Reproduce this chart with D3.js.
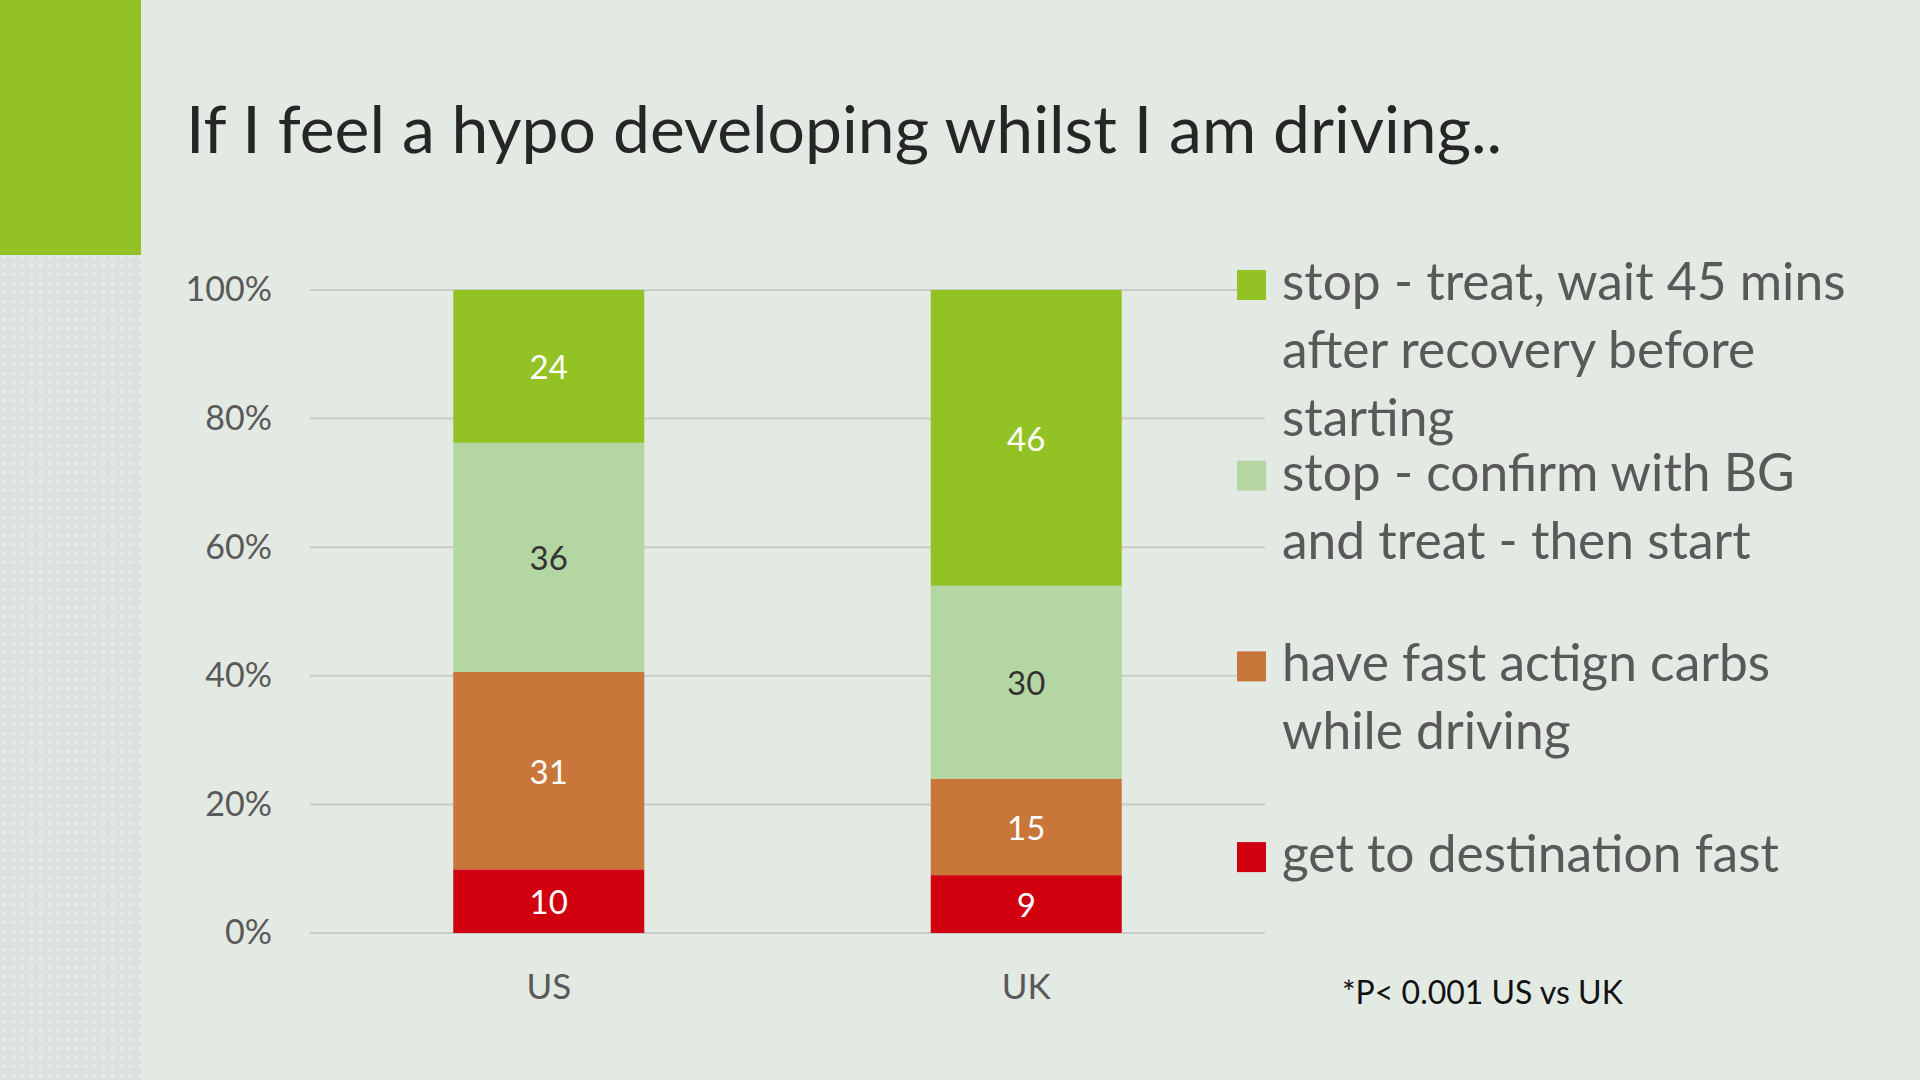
<!DOCTYPE html>
<html lang="en">
<head>
    <meta charset="UTF-8">
    <script src="https://cdn.jsdelivr.net/npm/d3@7.8.5/dist/d3.min.js"></script>
    <title>If I feel a hypo developing whilst I am driving</title>
    <style>
        html, body { margin: 0; padding: 0; background: #e3e9e3; }
        svg { display: block; font-family: Lato, "Open Sans", sans-serif; }
    </style>
</head>
<body onload="main()">
    <svg width="1920" height="1080"></svg>
    <script type="text/javascript">
        // chart data
        var categories = ["US", "UK"];
        var seriesKeys = ["fast", "carbs", "confirm", "wait"];
        var getToDestination = [10, 9];
        var fastCarbs = [31, 15];
        var confirmBG = [36, 30];
        var waitAfter = [24, 46];
        var yTicks = [0, 0.2, 0.4, 0.6, 0.8, 1];
        var legendLines = [
            ["stop - treat, wait 45 mins", "after recovery before", "starting"],
            ["stop - confirm with BG", "and treat - then start"],
            ["have fast actign carbs", "while driving"],
            ["get to destination fast"]
        ];
        var colors = {fast: "#d0000f", carbs: "#c8763a", confirm: "#b4d6a3", wait: "#93c224"};
        var labelColors = {fast: "#ffffff", carbs: "#ffffff", confirm: "#333333", wait: "#ffffff"};

        function main() {
            var svg = d3.select("svg");

            // background decorations
            var defs = svg.append("defs");
            var pat = defs.append("pattern").attr("id", "dots")
                .attr("width", 9).attr("height", 9).attr("patternUnits", "userSpaceOnUse");
            pat.append("rect").attr("width", 9).attr("height", 9).attr("fill", "#dbe1dd");
            pat.append("circle").attr("cx", 4.5).attr("cy", 4.5).attr("r", 2).attr("fill", "#e6ebe8");
            svg.append("rect").attr("x", 0).attr("y", 255).attr("width", 141).attr("height", 825).attr("fill", "url(#dots)");
            svg.append("rect").attr("x", 0).attr("y", 0).attr("width", 141).attr("height", 255).attr("fill", "#93c224");

            // title
            svg.append("text").attr("x", 186).attr("y", 153)
                .attr("font-size", 66).attr("fill", "#262626")
                .text("If I feel a hypo developing whilst I am driving..");

            // build table
            var table = categories.map(function(c, i) {
                return {cat: c, fast: getToDestination[i], carbs: fastCarbs[i], confirm: confirmBG[i], wait: waitAfter[i]};
            });
            var stacked = d3.stack().keys(seriesKeys).offset(d3.stackOffsetExpand)(table);

            var x = d3.scaleBand().domain(categories).range([310, 1265]).paddingInner(0.6).paddingOuter(0.3);
            var y = d3.scaleLinear().domain([0, 1]).range([933, 290]);

            // grid lines
            svg.append("g").selectAll("line").data(yTicks).enter().append("line")
                .attr("x1", 310).attr("x2", 1265)
                .attr("y1", function(d) { return y(d); }).attr("y2", function(d) { return y(d); })
                .attr("stroke", "#c9ccc9").attr("stroke-width", 2);

            // y axis labels
            var yAxis = svg.append("g").attr("transform", "translate(280,0)")
                .call(d3.axisLeft(y).tickValues(yTicks).tickFormat(d3.format(".0%")).tickSize(0).tickPadding(8));
            yAxis.select(".domain").remove();
            yAxis.selectAll(".tick line").remove();
            yAxis.selectAll("text").attr("font-size", 34).attr("fill", "#595959").attr("font-family", "Lato, sans-serif");

            // x axis labels
            var xAxis = svg.append("g").attr("transform", "translate(0,974)")
                .call(d3.axisBottom(x).tickSize(0).tickPadding(0));
            xAxis.select(".domain").remove();
            xAxis.selectAll(".tick line").remove();
            xAxis.selectAll("text").attr("font-size", 35).attr("fill", "#595959").attr("font-family", "Lato, sans-serif");

            // bars
            var layers = svg.append("g").selectAll("g").data(stacked).enter().append("g")
                .attr("fill", function(d) { return colors[d.key]; });
            layers.selectAll("rect").data(function(d) { return d; }).enter().append("rect")
                .attr("x", function(d) { return x(d.data.cat); })
                .attr("y", function(d) { return y(d[1]); })
                .attr("width", x.bandwidth())
                .attr("height", function(d) { return y(d[0]) - y(d[1]); });

            // value labels
            stacked.forEach(function(layer) {
                svg.append("g").selectAll("text").data(layer).enter().append("text")
                    .attr("x", function(d) { return x(d.data.cat) + x.bandwidth() / 2; })
                    .attr("y", function(d) { return (y(d[0]) + y(d[1])) / 2 + 13; })
                    .attr("text-anchor", "middle").attr("font-size", 33)
                    .attr("fill", labelColors[layer.key])
                    .text(function(d) { return d.data[layer.key]; });
            });

            // legend (top item first)
            var legendOrder = ["wait", "confirm", "carbs", "fast"];
            legendOrder.forEach(function(k, i) {
                var base = 300 + i * 190.7;
                svg.append("rect").attr("x", 1237).attr("y", base - 30)
                    .attr("width", 29).attr("height", 30).attr("fill", colors[k]);
                var t = svg.append("text").attr("x", 1282).attr("y", base)
                    .attr("font-size", 51.5).attr("fill", "#595959");
                legendLines[i].forEach(function(line, j) {
                    t.append("tspan").attr("x", 1282).attr("y", base + j * 68).text(line);
                });
            });

            // note
            svg.append("text").attr("x", 1342).attr("y", 1004)
                .attr("font-size", 32).attr("fill", "#111111")
                .text("*P< 0.001 US vs UK");
        }
    </script>
</body>
</html>
